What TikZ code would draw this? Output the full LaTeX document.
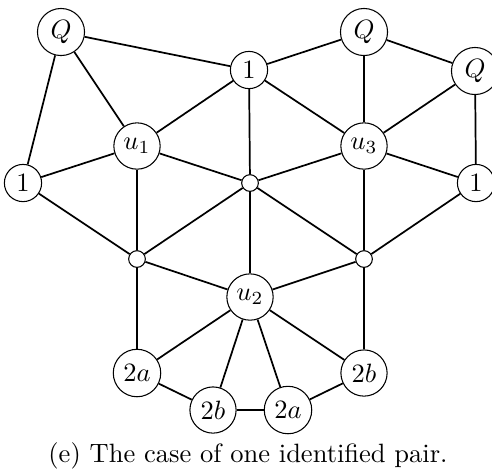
\documentclass[tikz,border=0pt]{standalone}
\begin{document}
\begin{tikzpicture}[x=0.3774pt,y=-0.3774pt,
  vtx/.style={circle,draw,line width=0.4pt,inner sep=2.1pt,fill=white},
  dot/.style={circle,draw,line width=0.4pt,inner sep=0pt,minimum size=6.3pt,fill=white},
  edge/.style={line width=0.65pt}]
\useasboundingbox (0,0) rectangle (492,472);
\node[vtx] (QL) at (61,32) {$Q$};
\node[vtx] (T1) at (249,70) {$1$};
\node[vtx] (QR) at (364,32) {$Q$};
\node[vtx] (QRR) at (475,71) {$Q$};
\node[vtx] (u1) at (137,146) {$u_1$};
\node[vtx] (u3) at (364,146) {$u_3$};
\node[dot] (c) at (250,183) {};
\node[vtx] (L1) at (23,183) {$1$};
\node[vtx] (R1) at (476,183) {$1$};
\node[dot] (sL) at (137,259) {};
\node[dot] (sR) at (364,259) {};
\node[vtx] (u2) at (250,297) {$u_2$};
\node[vtx] (a2L) at (137,373) {$2a$};
\node[vtx] (b2R) at (364,373) {$2b$};
\node[vtx] (b2B) at (213,410) {$2b$};
\node[vtx] (a2B) at (288,410) {$2a$};
\node (cap) at (248,456) {(e) The case of one identified pair.};
\begin{scope}[edge]
\draw (QL) -- (T1);
\draw (QL) -- (u1);
\draw (QL) -- (L1);
\draw (T1) -- (QR);
\draw (T1) -- (u1);
\draw (T1) -- (u3);
\draw (T1) -- (c);
\draw (QR) -- (QRR);
\draw (QR) -- (u3);
\draw (QRR) -- (u3);
\draw (QRR) -- (R1);
\draw (u1) -- (L1);
\draw (u1) -- (c);
\draw (u1) -- (sL);
\draw (u3) -- (c);
\draw (u3) -- (R1);
\draw (u3) -- (sR);
\draw (L1) -- (sL);
\draw (R1) -- (sR);
\draw (c) -- (sL);
\draw (c) -- (sR);
\draw (c) -- (u2);
\draw (sL) -- (u2);
\draw (sR) -- (u2);
\draw (sL) -- (a2L);
\draw (sR) -- (b2R);
\draw (u2) -- (a2L);
\draw (u2) -- (b2B);
\draw (u2) -- (a2B);
\draw (u2) -- (b2R);
\draw (a2L) -- (b2B);
\draw (b2B) -- (a2B);
\draw (a2B) -- (b2R);
\end{scope}
\end{tikzpicture}
\end{document}
